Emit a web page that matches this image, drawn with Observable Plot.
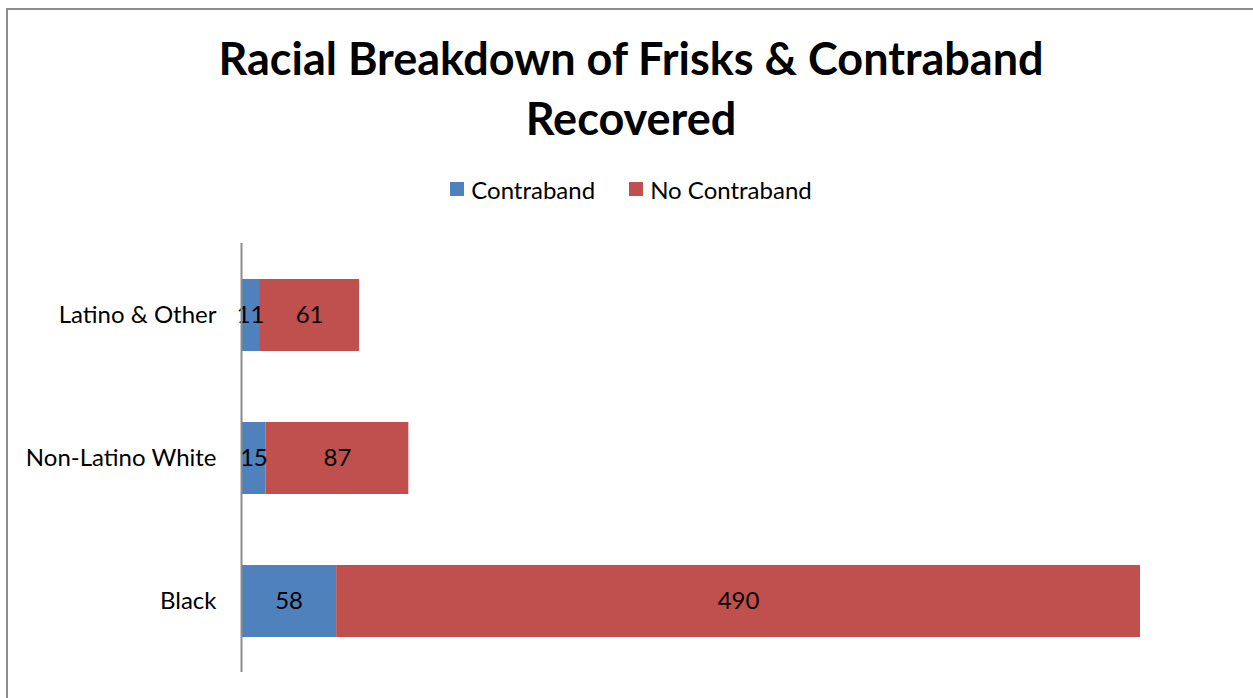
<!DOCTYPE html>
<html>
<head>
<meta charset="utf-8">
<script src="https://cdn.jsdelivr.net/npm/d3@7"></script>
<script src="https://cdn.jsdelivr.net/npm/@observablehq/plot@0.6"></script>
<style>
  html, body { margin: 0; padding: 0; background: #fff; }
  body { width: 1253px; height: 698px; overflow: hidden; position: relative; font-family: Lato, "Open Sans", sans-serif; }
  #frame { position: absolute; left: 6px; top: 8px; width: 1300px; height: 700px; border-left: 2px solid #8c8c8c; border-top: 2px solid #8c8c8c; }
  #title { position: absolute; left: 0; width: 1262px; top: 28px; text-align: center; font-weight: bold; font-size: 45px; line-height: 60px; color: #000; }
  #legend { position: absolute; left: 0; width: 1262px; top: 172px; text-align: center; font-size: 24px; color: #000; }
  #legend span.item { display: inline-flex; align-items: center; margin: 0 17px; }
  #legend span.sw { display: inline-block; width: 14px; height: 14px; margin-right: 7px; }
  #chart { position: absolute; left: 0; top: 243px; }
</style>
</head>
<body>
<div id="frame"></div>
<div id="title">Racial Breakdown of Frisks &amp; Contraband<br>Recovered</div>
<div id="legend"></div>
<div id="chart"></div>
<script>
const races = ["Latino & Other", "Non-Latino White", "Black"];
const seriesNames = ["Contraband", "No Contraband"];
const contraband = [11, 15, 58];
const noContraband = [61, 87, 490];
const colors = ["#4F81BD", "#C0504D"];

const data = [];
races.forEach((r, i) => {
  data.push({race: r, series: seriesNames[0], value: contraband[i]});
  data.push({race: r, series: seriesNames[1], value: noContraband[i]});
});

const legend = document.getElementById("legend");
seriesNames.forEach((s, i) => {
  const item = document.createElement("span");
  item.className = "item";
  const sw = document.createElement("span");
  sw.className = "sw";
  sw.style.background = colors[i];
  item.appendChild(sw);
  item.appendChild(document.createTextNode(s));
  legend.appendChild(item);
});

const stackOpts = {x: "value", y: "race", z: "series", order: seriesNames};

const chart = Plot.plot({
  width: 1253,
  height: 455,
  marginLeft: 241,
  marginRight: 113,
  marginTop: 0,
  marginBottom: 26,
  style: {fontFamily: "Lato, 'Open Sans', sans-serif", fontSize: "24px", color: "#000", background: "transparent"},
  x: {domain: [0, 548], axis: null},
  y: {domain: races, paddingInner: 0.5, paddingOuter: 0.25, label: null, tickSize: 0, tickPadding: 25},
  color: {domain: seriesNames, range: colors},
  marks: [
    Plot.barX(data, Plot.stackX({...stackOpts, fill: "series"})),
    Plot.textX(data, Plot.stackX({...stackOpts, text: d => String(d.value), fill: "#000", fontSize: 24})),
    Plot.ruleX([0], {stroke: "#8c8c8c", strokeWidth: 2})
  ]
});
document.getElementById("chart").appendChild(chart);
</script>
</body>
</html>
